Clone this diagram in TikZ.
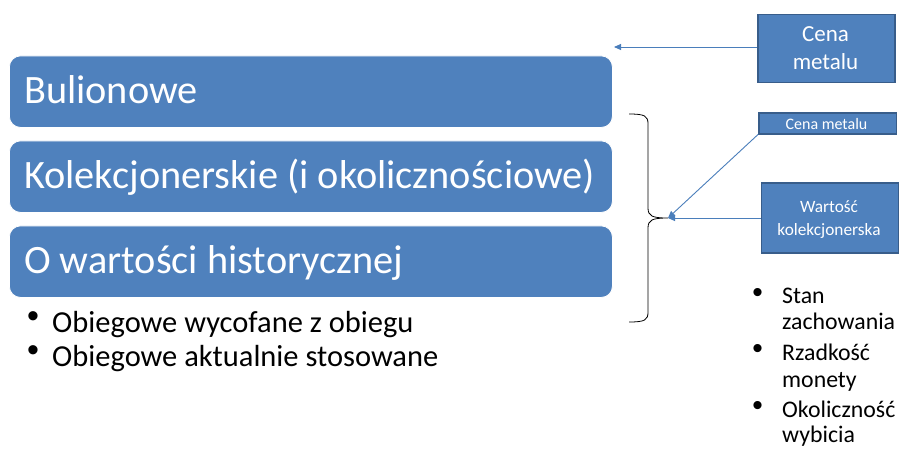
\documentclass[tikz,border=0pt]{standalone}
\usepackage{fontspec}
\setmainfont{Carlito}
\newfontfamily\bulletfont{Liberation Sans}
\usetikzlibrary{arrows.meta}
\definecolor{boxblue}{HTML}{4F81BD}
\definecolor{boxedge}{HTML}{385D8A}
\definecolor{arrowblue}{HTML}{4A7EBB}
\tikzset{
  bigbox/.style={fill=boxblue, draw=white, line width=0.8pt, rounded corners=11pt, minimum width=603pt, minimum height=71.5pt, anchor=north west, inner sep=0pt},
  bigtext/.style={text=white, font=\fontsize{40.3}{48}\selectfont, anchor=base west, inner sep=0pt},
  sidebox/.style={fill=boxblue, draw=boxedge, line width=1.5pt, inner sep=0pt, anchor=north west},
  boxtext/.style={text=white, anchor=base, inner sep=0pt},
  conn/.style={draw=arrowblue, line width=0.9pt, -{Triangle[length=7pt,width=6pt]}},
  bullettext/.style={font=\fontsize{30.5}{36}\selectfont, anchor=base west, inner sep=0pt},
  sidetext/.style={font=\fontsize{23.8}{28}\selectfont, anchor=base west, inner sep=0pt},
  bul/.style={font=\bulletfont\fontsize{34}{40}\selectfont, anchor=center, inner sep=0pt},
  sbul/.style={font=\bulletfont\fontsize{30}{36}\selectfont, anchor=center, inner sep=0pt},
}
\begin{document}
\begin{tikzpicture}[x=1pt,y=-1pt]
\useasboundingbox (0,0) rectangle (899,448);
\fill[white] (0,0) rectangle (899,448);
% big boxes
\node[bigbox] (b1) at (9,55.5) {};
\node[bigbox] (b2) at (9,140.5) {};
\node[bigbox] (b3) at (9,225.5) {};
\node[bigtext] (t1) at (24,103) {Bulionowe};
\node[bigtext] (t2) at (24,188) {Kolekcjonerskie (i okolicznościowe)};
\node[bigtext] (t3) at (24,273) {O wartości historycznej};
% bullets left
\node[bul] (lb1) at (33,320) {•};
\node[bullettext] (l1) at (52,332) {Obiegowe wycofane z obiegu};
\node[bul] (lb2) at (33,354) {•};
\node[bullettext] (l2) at (52,366) {Obiegowe aktualnie stosowane};
% side boxes
\node[sidebox, minimum width=137pt, minimum height=68pt] (c1) at (757,13.5) {};
\node[boxtext, font=\fontsize{23}{28}\selectfont] (c1a) at (825.5,41.7) {Cena};
\node[boxtext, font=\fontsize{23}{28}\selectfont] (c1b) at (825.5,69) {metalu};
\node[sidebox, minimum width=137.5pt, minimum height=21pt] (c2) at (758,112) {};
\node[boxtext, font=\fontsize{16}{19}\selectfont] (c2a) at (826.5,129) {Cena metalu};
\node[sidebox, minimum width=137pt, minimum height=70pt] (c3) at (760.5,182) {};
\node[boxtext, font=\fontsize{17.3}{21}\selectfont] (c3a) at (829,212.7) {Wartość};
\node[boxtext, font=\fontsize{17.3}{21}\selectfont] (c3b) at (829,235.7) {kolekcjonerska};
% brace
\coordinate (tip) at (668,218);
\draw[black, line width=0.8pt] (629,114) .. controls (645,114) and (648,116) .. (648,124)
  -- (648,208) .. controls (648,216) and (652,218) .. (tip)
  (tip) .. controls (652,218) and (648,220) .. (648,228)
  -- (648,312) .. controls (648,320) and (645,322) .. (629,322);
% arrows
\coordinate (a1) at (614,47);
\draw[conn] (c1.west |- a1) -- (a1);
\draw[conn] (c2.south west) -- (tip);
\draw[conn] (c3.west |- tip) -- (tip);
% right bullets
\node[sbul] (rb1) at (757.7,295) {•};
\node[sidetext] (r1) at (782,303) {Stan};
\node[sidetext] (r1b) at (782,329) {zachowania};
\node[sbul] (rb2) at (757.7,351) {•};
\node[sidetext] (r2) at (782,360) {Rzadkość};
\node[sidetext] (r2b) at (782,387) {monety};
\node[sbul] (rb3) at (757.7,408) {•};
\node[sidetext] (r3) at (782,417) {Okoliczność};
\node[sidetext] (r3b) at (782,442) {wybicia};
\end{tikzpicture}
\end{document}
